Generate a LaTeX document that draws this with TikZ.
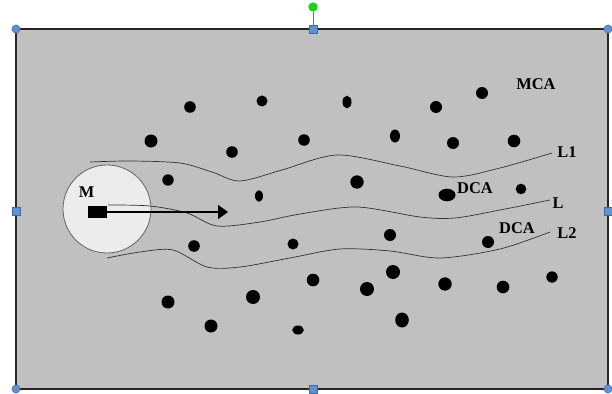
\documentclass[tikz,border=0pt]{standalone}
\usepackage{fontspec}
\setmainfont{Liberation Serif}
\usepackage{tikz}
\usetikzlibrary{positioning,arrows.meta,calc}

\definecolor{slab}{RGB}{192,192,192}
\definecolor{zone}{RGB}{236,236,236}
\definecolor{hblue}{RGB}{98,145,210}
\definecolor{hedge}{RGB}{62,104,168}
\definecolor{hgreen}{RGB}{20,215,20}

\begin{document}
\begin{tikzpicture}[x=0.03cm,y=-0.03cm,line width=0.6pt,
		lbl/.style={inner sep=0pt,font=\fontsize{14}{16}\selectfont\bfseries},
		stream/.style={draw=black!80,line width=0.6pt},
		hdot/.style={circle,fill=hblue,draw=hedge,line width=0.4pt,inner sep=0pt,minimum size=7pt},
		hsq/.style={rectangle,fill=hblue,draw=hedge,line width=0.4pt,inner sep=0pt,minimum size=7pt}]
		\def\xl{16}
		\def\xr{608}
		\def\yt{29}
		\def\yb{389}
		\def\xm{313}
		\def\ym{211}
		\useasboundingbox (0,0) rectangle (612,394);
		%plate
		\draw[fill=slab,draw=black!85,line width=1.2pt] (\xl,\yt) rectangle (\xr,\yb);
		%zone M
		\draw[fill=zone,draw=black!60,line width=0.7pt] (107,209) circle (44);
		\node[lbl] (M) at (86.5,192.5) {M};
		\node[fill=black,inner sep=0pt,minimum width=0.57cm,minimum height=0.36cm] (src) at (97.5,212) {};
		%streamlines
		\draw[stream] plot[smooth] coordinates {(90,162) (130,161) (180,163) (212,172) (240,181) (282,170) (337,155) (400,166) (453,177) (500,168) (552,153)};
		\draw[stream] plot[smooth] coordinates {(108,205) (150,206) (187,213) (217,226) (260,222) (300,214) (357,207) (420,217) (455,218) (500,210) (550,200)};
		\draw[stream] plot[smooth] coordinates {(107,258) (140,252) (173,250) (207,267) (240,267) (290,258) (340,249) (390,251) (440,258) (500,249) (550,232)};
		\node[lbl] (L1) at (567,152) {L1};
		\node[lbl] (L) at (558,203) {L};
		\node[lbl] (L2) at (567,233) {L2};
		%direction
		\coordinate (tip) at (228,212);
		\draw[-{Triangle[length=8.5pt,width=12pt]},line width=0.9pt] (src.east) -- (tip);
		%particles
		\foreach \x/\y/\rx/\ry in {190/107/5.8/5.8, 262/101/5.5/5.5, 347/102/4.5/6.3, 436/107/6/6,
			482/93/6/6, 151/141/6.5/6.5, 232/152/5.8/5.8, 304/140/5.8/5.8, 395/136/5/6.5,
			453/143/6/6, 514/141/6.3/6.3, 168/180/5.7/5.7, 259/196/4/5.8, 357/182/6.7/6.7,
			447/195/8.5/6.3, 521/189/5.3/5.3, 194/246/5.8/5.8, 293/244/5.5/5.5, 390/235/6/6,
			488/242/6/6, 168/302/6.5/6.5, 253/297/7/7, 313/280/6.3/6.3, 367/289/7/7,
			393/272/7/7, 445/284/6.7/6.7, 503/287/6.3/6.3, 552/277/5.7/5.7, 211/326/6.5/6.5,
			298/330/5.8/4.5, 402/320/6.8/7.5}{
				\fill[black] (\x,\y) ellipse [x radius=\rx, y radius=\ry];
				}
		\node[lbl] (mca) at (536,84) {MCA};
		\node[lbl] (dca1) at (475,188.5) {DCA};
		\node[lbl] (dca2) at (517,228) {DCA};
		%handles
		\node[hsq] (hT) at (\xm,\yt) {};
		\node[circle,fill=hgreen,inner sep=0pt,minimum size=8pt] (rot) at (\xm,7) {};
		\draw[draw=black!55,line width=0.8pt] (rot) -- (hT);
		\node[hsq] (hB) at (\xm,\yb) {};
		\node[hsq] (hL) at (\xl,\ym) {};
		\node[hsq] (hR) at (\xr,\ym) {};
		\foreach \x/\y in {\xl/\yt,\xr/\yt,\xl/\yb,\xr/\yb}{
			\node[hdot] at (\x,\y) {};
			}
	\end{tikzpicture}
\end{document}
